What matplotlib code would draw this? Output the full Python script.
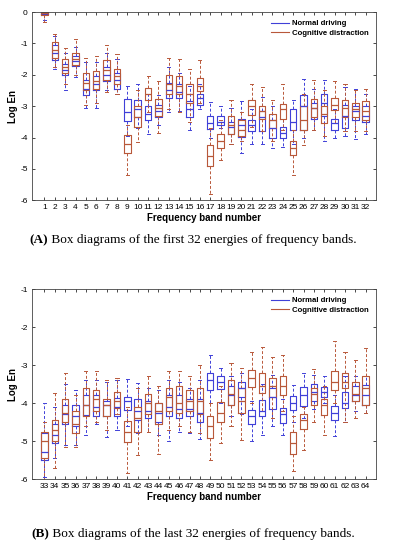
import matplotlib.pyplot as plt

# band numbers 1..64 (first 32 in panel A, last 32 in panel B)
bands = list(range(1, 65))

# Normal driving: whisker low, Q1, median, Q3, whisker high
nd_lo = [-0.25, -1.82, -2.50, -2.06, -3.05, -3.05, -2.50, -2.60, -3.95, -3.70, -3.90, -3.60, -3.20, -3.15, -3.75, -3.10,
         -4.00, -3.70, -4.20, -4.50, -4.20, -4.20, -4.35, -4.30, -4.20, -4.00, -3.75, -4.10, -4.00, -3.95, -4.05, -3.90,
         -5.95, -5.45, -5.10, -5.10, -4.85, -4.55, -4.90, -4.70, -4.60, -4.80, -4.75, -4.85, -5.00, -4.75, -4.80, -4.95,
         -4.00, -4.00, -4.35, -4.30, -5.00, -4.85, -4.60, -4.84, -4.50, -4.40, -4.15, -4.00, -4.88, -4.50, -4.20, -4.25]
nd_q1 = [-0.07, -1.52, -2.00, -1.72, -2.65, -2.50, -2.20, -2.45, -3.47, -3.35, -3.45, -3.35, -2.75, -2.75, -3.35, -2.97,
         -3.74, -3.60, -3.88, -3.98, -3.79, -3.80, -4.00, -4.03, -3.77, -3.77, -3.40, -3.30, -3.77, -3.70, -3.45, -3.50,
         -5.50, -5.05, -4.55, -4.60, -4.31, -4.35, -4.35, -4.35, -4.18, -4.45, -4.40, -4.50, -4.35, -4.40, -4.35, -4.50,
         -3.65, -3.64, -4.05, -3.85, -4.55, -4.34, -4.15, -4.53, -4.18, -4.09, -3.95, -3.83, -4.44, -4.12, -3.95, -4.05]
nd_med = [-0.03, -1.30, -1.85, -1.55, -2.45, -2.30, -2.00, -2.15, -3.20, -3.10, -3.25, -3.15, -2.50, -2.55, -3.10, -2.75,
          -3.55, -3.50, -3.65, -3.60, -3.60, -3.35, -3.70, -3.85, -3.50, -3.00, -3.05, -2.90, -3.55, -3.30, -3.15, -3.30,
          -5.30, -4.85, -4.30, -4.35, -4.05, -4.10, -4.05, -4.10, -3.95, -4.20, -4.20, -4.25, -4.10, -4.15, -4.15, -4.25,
          -3.40, -3.45, -3.80, -3.60, -4.35, -4.20, -3.85, -4.30, -4.00, -3.80, -3.70, -3.70, -4.25, -4.00, -3.80, -3.80]
nd_q3 = [0.00, -1.05, -1.65, -1.40, -2.15, -2.05, -1.75, -1.95, -2.76, -2.80, -3.00, -2.95, -2.25, -2.30, -2.85, -2.60,
         -3.30, -3.30, -3.50, -3.40, -3.45, -3.15, -3.45, -3.68, -3.10, -2.64, -2.90, -2.60, -3.40, -2.95, -3.00, -3.00,
         -4.80, -4.55, -4.05, -4.05, -3.78, -3.80, -3.95, -3.87, -3.83, -3.90, -3.95, -4.00, -3.80, -3.80, -3.90, -3.90,
         -3.20, -3.29, -3.55, -3.45, -4.18, -3.92, -3.60, -4.12, -3.81, -3.58, -3.50, -3.59, -4.07, -3.72, -3.55, -3.52]
nd_hi = [0.00, -0.75, -1.30, -1.10, -1.60, -1.60, -1.30, -1.50, -2.35, -2.30, -2.60, -2.65, -1.75, -1.95, -2.35, -2.30,
         -2.86, -3.00, -3.05, -2.85, -3.10, -2.70, -3.00, -3.40, -2.80, -2.12, -2.45, -2.15, -3.10, -2.40, -2.45, -2.60,
         -4.00, -4.10, -3.50, -3.65, -3.40, -3.40, -3.45, -3.40, -3.36, -3.48, -3.60, -3.65, -3.40, -3.45, -3.60, -3.40,
         -2.73, -3.08, -3.30, -3.20, -3.95, -3.50, -3.25, -3.90, -3.52, -3.22, -3.25, -3.30, -3.80, -3.30, -3.30, -3.30]

# Cognitive distraction
cd_lo = [-0.30, -1.75, -2.30, -2.00, -2.95, -2.90, -2.55, -2.60, -5.20, -4.15, -3.20, -3.85, -3.10, -3.20, -3.50, -2.90,
         -5.79, -4.72, -4.20, -4.10, -3.65, -3.80, -4.10, -3.75, -5.20, -4.24, -3.75, -3.95, -3.55, -3.80, -3.80, -3.80,
         -6.00, -5.71, -5.15, -5.15, -4.60, -4.50, -4.70, -4.30, -5.84, -5.36, -4.75, -5.35, -4.70, -4.60, -4.75, -4.80,
         -5.49, -5.04, -4.60, -4.97, -4.00, -4.20, -4.40, -4.20, -5.80, -5.23, -4.50, -4.84, -4.00, -4.50, -4.40, -4.25]
cd_q1 = [-0.08, -1.45, -1.95, -1.70, -2.50, -2.45, -2.15, -2.30, -4.51, -3.65, -2.79, -3.30, -2.60, -2.60, -2.90, -2.51,
         -4.91, -4.32, -3.90, -3.95, -3.27, -3.40, -3.70, -3.41, -4.56, -3.77, -3.35, -3.55, -3.13, -3.35, -3.35, -3.45,
         -5.45, -5.00, -4.50, -4.80, -4.35, -4.20, -4.35, -4.13, -5.03, -4.75, -4.30, -4.55, -4.20, -4.25, -4.20, -4.30,
         -4.92, -4.51, -4.05, -4.25, -3.58, -3.74, -3.85, -3.78, -5.34, -4.68, -4.05, -4.31, -3.67, -3.61, -3.95, -4.05]
cd_med = [-0.04, -1.20, -1.75, -1.50, -2.25, -2.20, -1.85, -2.05, -4.20, -3.35, -2.60, -3.05, -2.30, -2.35, -2.60, -2.35,
          -4.60, -4.10, -3.60, -3.75, -3.00, -3.15, -3.45, -3.10, -4.35, -3.45, -3.05, -3.25, -2.95, -3.05, -3.10, -3.15,
          -5.00, -4.70, -4.25, -4.55, -4.05, -3.90, -4.05, -3.95, -4.75, -4.40, -4.00, -4.20, -3.85, -4.00, -3.95, -3.95,
          -4.60, -4.25, -3.75, -3.95, -3.35, -3.55, -3.55, -3.55, -5.05, -4.45, -3.75, -4.05, -3.45, -3.45, -3.75, -3.60]
cd_q3 = [0.00, -0.96, -1.50, -1.30, -1.95, -1.88, -1.52, -1.80, -3.93, -3.00, -2.41, -2.78, -2.00, -2.05, -2.30, -2.10,
         -4.24, -3.90, -3.30, -3.45, -2.81, -3.00, -3.25, -2.94, -4.10, -3.00, -2.78, -3.00, -2.74, -2.80, -2.90, -2.85,
         -4.75, -4.45, -3.90, -4.20, -3.61, -3.65, -3.90, -3.71, -4.48, -4.10, -3.75, -4.00, -3.60, -3.55, -3.65, -3.60,
         -4.35, -3.96, -3.40, -3.60, -3.13, -3.20, -3.35, -3.29, -4.77, -4.29, -3.60, -3.90, -3.15, -3.22, -3.45, -3.30]
cd_hi = [0.00, -0.70, -1.15, -0.85, -1.45, -1.40, -1.05, -1.35, -3.60, -2.50, -2.05, -2.20, -1.45, -1.50, -1.80, -1.53,
         -3.70, -3.45, -2.79, -3.20, -2.28, -2.40, -2.80, -2.28, -3.75, -2.60, -2.15, -2.50, -2.20, -2.30, -2.50, -2.45,
         -4.50, -3.74, -3.22, -3.80, -3.17, -3.15, -3.40, -3.33, -4.10, -3.60, -3.30, -3.55, -3.15, -3.15, -3.30, -3.00,
         -4.00, -3.55, -2.95, -3.07, -2.65, -2.53, -2.80, -2.73, -4.35, -4.10, -3.11, -3.55, -2.38, -2.65, -2.88, -2.56]

captions = [('(A)', ' Box diagrams of the first 32 energies of frequency bands.'),
            ('(B)', ' Box diagrams of the last 32 energies of frequency bands.')]

blue = '#4040d8'
red = '#b8583a'
lab_font = ['Liberation Sans', 'DejaVu Sans']
cap_font = ['Liberation Serif', 'DejaVu Serif']


def stats(lo, q1, med, q3, hi, idx):
    return [dict(whislo=lo[i], q1=q1[i], med=med[i], q3=q3[i], whishi=hi[i], fliers=[]) for i in idx]


def draw_boxes(ax, st, pos, color):
    ax.bxp(st, positions=pos, widths=0.62, showfliers=False, manage_ticks=False,
           boxprops=dict(color=color, lw=0.8),
           medianprops=dict(color=color, lw=0.9),
           whiskerprops=dict(color=color, lw=0.7, ls=(0, (3, 2))),
           capprops=dict(color=color, lw=0.7), capwidths=0.3)


fig = plt.figure(figsize=(3.93, 5.5), dpi=100)
ax1 = fig.add_axes([0.0814, 0.636, 0.8755, 0.342])
ax2 = fig.add_axes([0.0814, 0.129, 0.8755, 0.3455])

panels = [(ax1, range(0, 32), (-6, 0), [0, -1, -2, -3, -4, -5, -6]),
          (ax2, range(32, 64), (-6, -1), [-1, -2, -3, -4, -5, -6])]

for ax, idx, ylim, yt in panels:
    pos = [bands[i] - idx[0] for i in idx]
    draw_boxes(ax, stats(nd_lo, nd_q1, nd_med, nd_q3, nd_hi, idx), pos, blue)
    draw_boxes(ax, stats(cd_lo, cd_q1, cd_med, cd_q3, cd_hi, idx), pos, red)
    ax.plot([], [], color=blue, lw=0.8, label='Normal driving')
    ax.plot([], [], color=red, lw=0.8, label='Cognitive distraction')
    ax.set_xlim(-0.2, 33.0)
    ax.set_ylim(*ylim)
    ax.set_xticks(pos)
    ax.set_xticklabels([str(bands[i]) for i in idx], fontsize=6, family=lab_font)
    ax.set_yticks(yt)
    ax.set_yticklabels([str(v) for v in yt], fontsize=6, family=lab_font)
    ax.tick_params(direction='in', top=True, right=True, length=2.5, width=0.5, pad=3)
    for s in ax.spines.values():
        s.set_linewidth(0.6)
        s.set_color('#444444')
    ax.set_xlabel('Frequency band number', fontsize=7, fontweight='bold', family=lab_font, labelpad=1)
    ax.set_ylabel('Log En', fontsize=7, fontweight='bold', family=lab_font, labelpad=2)
    ax.legend(loc='upper right', frameon=False,
              prop=dict(family=lab_font, weight='bold', size=5.6),
              handlelength=2.4, handletextpad=0.3, labelspacing=0.25,
              borderaxespad=0.6)

# captions: bold panel letter, then regular text right after it
for (letter, rest), (x, y) in zip(captions, [(0.074, 0.558), (0.079, 0.024)]):
    t = fig.text(x, y, letter, fontsize=9.5, fontweight='bold', family=cap_font, va='baseline')
    ax1.annotate(rest, xy=(1, 0), xycoords=t, va='bottom', ha='left',
                 fontsize=9.5, family=cap_font, annotation_clip=False)

fig.savefig('out.png', dpi=100)
